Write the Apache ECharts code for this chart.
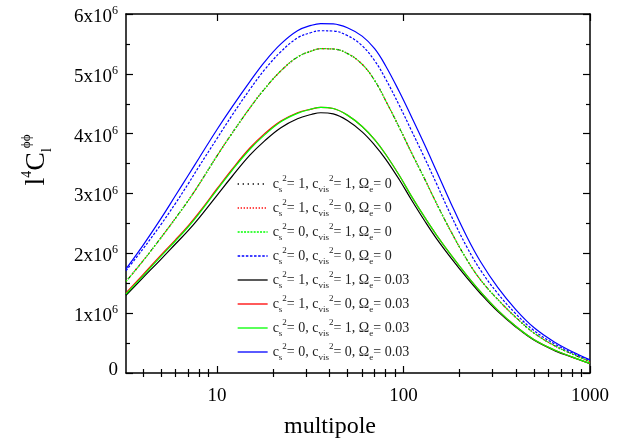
<!DOCTYPE html>
<html><head><meta charset="utf-8">
<script src="https://cdn.jsdelivr.net/npm/echarts@6/dist/echarts.min.js"></script>
<style>html,body{margin:0;padding:0;background:#fff}#c{width:630px;height:445px}</style>
</head><body><div id="c"></div>
<script>
// multipole l
const ell = [3.25, 4, 5, 6, 7, 8, 10, 12, 15, 18, 22, 27, 32, 36, 42, 50, 60, 70, 80, 95, 110, 130, 150, 180, 220, 260, 320, 400, 500, 650, 800, 1000];
// l^4 C_l^{phi phi} in units of 10^6
const dotBlack = [1.53, 1.87, 2.26, 2.59, 2.88, 3.15, 3.63, 4.00, 4.43, 4.75, 5.05, 5.28, 5.38, 5.42, 5.415, 5.34, 5.16, 4.89, 4.56, 4.10, 3.69, 3.24, 2.84, 2.36, 1.88, 1.55, 1.23, 0.93, 0.67, 0.45, 0.32, 0.19];
const dotRed   = [1.53, 1.87, 2.26, 2.59, 2.88, 3.15, 3.63, 4.00, 4.43, 4.75, 5.05, 5.28, 5.38, 5.42, 5.415, 5.34, 5.16, 4.89, 4.56, 4.10, 3.69, 3.24, 2.84, 2.36, 1.88, 1.55, 1.23, 0.93, 0.67, 0.45, 0.32, 0.19];
const dotGreen = [1.53, 1.87, 2.26, 2.59, 2.88, 3.15, 3.63, 4.00, 4.43, 4.75, 5.05, 5.28, 5.38, 5.42, 5.415, 5.34, 5.16, 4.89, 4.56, 4.10, 3.69, 3.24, 2.84, 2.36, 1.88, 1.55, 1.23, 0.93, 0.67, 0.45, 0.32, 0.19];
const dotBlue  = [1.71, 2.07, 2.48, 2.84, 3.16, 3.45, 3.92, 4.30, 4.74, 5.07, 5.37, 5.60, 5.69, 5.72, 5.715, 5.64, 5.47, 5.22, 4.92, 4.47, 4.06, 3.59, 3.17, 2.63, 2.09, 1.71, 1.33, 0.99, 0.71, 0.48, 0.34, 0.21];
const solBlack = [1.30, 1.59, 1.90, 2.16, 2.38, 2.59, 2.97, 3.28, 3.64, 3.88, 4.10, 4.25, 4.32, 4.35, 4.33, 4.22, 4.03, 3.81, 3.58, 3.23, 2.90, 2.54, 2.25, 1.92, 1.58, 1.32, 1.03, 0.77, 0.55, 0.37, 0.265, 0.155];
const solRed   = [1.34, 1.64, 1.97, 2.23, 2.46, 2.68, 3.08, 3.40, 3.76, 4.00, 4.21, 4.35, 4.41, 4.44, 4.42, 4.31, 4.12, 3.90, 3.66, 3.30, 2.96, 2.60, 2.31, 1.97, 1.62, 1.35, 1.05, 0.78, 0.56, 0.38, 0.27, 0.16];
const solGreen = [1.32, 1.62, 1.95, 2.21, 2.44, 2.66, 3.06, 3.38, 3.74, 3.98, 4.20, 4.34, 4.41, 4.44, 4.42, 4.31, 4.12, 3.90, 3.66, 3.30, 2.96, 2.60, 2.31, 1.97, 1.62, 1.35, 1.05, 0.78, 0.56, 0.38, 0.27, 0.16];
const solBlue  = [1.74, 2.13, 2.58, 2.97, 3.30, 3.59, 4.07, 4.44, 4.87, 5.20, 5.50, 5.72, 5.81, 5.84, 5.835, 5.77, 5.63, 5.42, 5.14, 4.70, 4.29, 3.81, 3.38, 2.83, 2.26, 1.85, 1.43, 1.06, 0.76, 0.51, 0.36, 0.22];

// legend parameters
const csVals    = ['1', '1', '0', '0', '1', '1', '0', '0'];
const cvisVals  = ['1', '0', '1', '0', '1', '0', '1', '0'];
const omegaVals = ['0', '0', '0', '0', '0.03', '0.03', '0.03', '0.03'];

// tick labels / positions
const yTicks = [0, 1, 2, 3, 4, 5, 6];
const xMajorTicks = [10, 100, 1000];
const xMinorTicks = [4, 5, 6, 7, 8, 9, 20, 30, 40, 50, 60, 70, 80, 90, 200, 300, 400, 500, 600, 700, 800, 900];

const FONT = '"Liberation Serif", "Times New Roman", serif';
const allVals = [dotBlack, dotRed, dotGreen, dotBlue, solBlack, solRed, solGreen, solBlue];
const colors = ['#000000', '#ff0000', '#00ff00', '#0000ff', '#000000', '#ff0000', '#00ff00', '#0000ff'];
const dashes = [[1.3, 3.7], [1.3, 1.7], [2, 1.2], [2.5, 1.6], 'solid', 'solid', 'solid', 'solid'];
const names = csVals.map((c, i) => 'cs2=' + c + ', cvis2=' + cvisVals[i] + ', Oe=' + omegaVals[i]);

const series = allVals.map((vals, i) => ({
  name: names[i],
  type: 'line',
  xAxisIndex: 0,
  yAxisIndex: 0,
  data: ell.map((l, k) => [l, vals[k]]),
  symbol: 'none',
  smooth: 0.4,
  lineStyle: { color: colors[i], width: 1.2, type: dashes[i] },
  itemStyle: { color: colors[i] },
  emphasis: { disabled: true },
  silent: true
}));

const axisLineStyle = { color: '#000', width: 1.5 };
const tickStyle = { color: '#000', width: 1.2 };

const chart = echarts.init(document.getElementById('c'), null, { renderer: 'canvas' });
chart.setOption({
  animation: false,
  backgroundColor: '#fff',
  grid: { left: 126, right: 40, top: 14, bottom: 72, containLabel: false, outerBoundsMode: 'none' },
  legend: {
    orient: 'vertical',
    left: 232,
    top: 169,
    itemWidth: 30,
    itemHeight: 10,
    itemGap: 4,
    selectedMode: false,
    data: names,
    itemStyle: { opacity: 0 },
    lineStyle: { width: 1.3 },
    formatter: function (name) {
      const i = names.indexOf(name);
      return '{m|c}{sb|s}{sp|2}{m|= ' + csVals[i] + ', c}{sb|vis}{sp|2}{m|= ' + cvisVals[i] + ', Ω}{sb|e}{m|= ' + omegaVals[i] + '}';
    },
    textStyle: {
      fontFamily: FONT,
      color: '#222',
      rich: {
        m: { fontFamily: FONT, fontSize: 14, lineHeight: 20, color: '#222' },
        sb: { fontFamily: FONT, fontSize: 9, lineHeight: 9, verticalAlign: 'bottom', color: '#222' },
        sp: { fontFamily: FONT, fontSize: 9, lineHeight: 9, verticalAlign: 'top', color: '#222' }
      }
    }
  },
  xAxis: [
    {
      type: 'log', logBase: 10, min: 3.25, max: 1000, position: 'bottom',
      axisLine: { show: true, onZero: false, lineStyle: axisLineStyle },
      axisTick: { show: true, inside: true, length: 7, lineStyle: tickStyle, customValues: xMajorTicks },
      axisLabel: { show: true, customValues: xMajorTicks, fontFamily: FONT, fontSize: 19, color: '#000', margin: 14, formatter: v => String(Math.round(v)) },
      splitLine: { show: false }
    },
    {
      type: 'log', logBase: 10, min: 3.25, max: 1000, position: 'top',
      axisLine: { show: true, onZero: false, lineStyle: axisLineStyle },
      axisTick: { show: true, inside: true, length: 7, lineStyle: tickStyle, customValues: xMajorTicks },
      axisLabel: { show: false },
      splitLine: { show: false }
    },
    {
      type: 'value', min: Math.log10(3.25), max: 3, position: 'bottom',
      axisLine: { show: false },
      axisTick: { show: true, inside: true, length: 4, lineStyle: tickStyle, customValues: xMinorTicks.map(Math.log10) },
      axisLabel: { show: false },
      splitLine: { show: false }
    },
    {
      type: 'value', min: Math.log10(3.25), max: 3, position: 'top',
      axisLine: { show: false },
      axisTick: { show: true, inside: true, length: 4, lineStyle: tickStyle, customValues: xMinorTicks.map(Math.log10) },
      axisLabel: { show: false },
      splitLine: { show: false }
    }
  ],
  yAxis: [
    {
      type: 'value', min: yTicks[0], max: yTicks[yTicks.length - 1], interval: 1, position: 'left',
      axisLine: { show: true, onZero: false, lineStyle: axisLineStyle },
      axisTick: { show: true, inside: true, length: 7, lineStyle: tickStyle },
      minorTick: { show: true, splitNumber: 2, length: 4, lineStyle: tickStyle },
      splitLine: { show: false },
      axisLabel: {
        margin: 8,
        formatter: v => v === 0 ? '{z|0}' : '{b|' + v + 'x10}{s|6}',
        rich: {
          z: { fontFamily: FONT, fontSize: 19, lineHeight: 24, padding: [0, 0, 6, 0], color: '#000' },
          b: { fontFamily: FONT, fontSize: 19, lineHeight: 24, padding: [6, 0, 0, 0], color: '#000' },
          s: { fontFamily: FONT, fontSize: 12, lineHeight: 12, padding: [3, 0, 0, 0], verticalAlign: 'top', color: '#000' }
        }
      }
    },
    {
      type: 'value', min: yTicks[0], max: yTicks[yTicks.length - 1], interval: 1, position: 'right',
      axisLine: { show: true, onZero: false, lineStyle: axisLineStyle },
      axisTick: { show: true, inside: true, length: 7, lineStyle: tickStyle },
      minorTick: { show: true, splitNumber: 2, length: 4, lineStyle: tickStyle },
      splitLine: { show: false },
      axisLabel: { show: false }
    }
  ],
  graphic: [
    {
      type: 'text', x: 330, y: 427,
      style: { text: 'multipole', fontFamily: FONT, fontSize: 24, fill: '#000', align: 'center', verticalAlign: 'middle' }
    },
    {
      type: 'text', x: 37, y: 160, rotation: Math.PI / 2,
      style: {
        text: '{a|l}{p|4}{a|C}{d|l}{q|ϕϕ}',
        align: 'center', verticalAlign: 'middle',
        rich: {
          a: { fontFamily: FONT, fontSize: 28, lineHeight: 34, fill: '#000', color: '#000' },
          p: { fontFamily: FONT, fontSize: 14, lineHeight: 14, verticalAlign: 'top', fill: '#000', color: '#000' },
          d: { fontFamily: FONT, fontSize: 14, lineHeight: 14, verticalAlign: 'bottom', fill: '#000', color: '#000' },
          q: { fontFamily: FONT, fontSize: 13, lineHeight: 13, verticalAlign: 'top', fill: '#000', color: '#000' }
        }
      }
    }
  ],
  series: series
});
</script></body></html>
